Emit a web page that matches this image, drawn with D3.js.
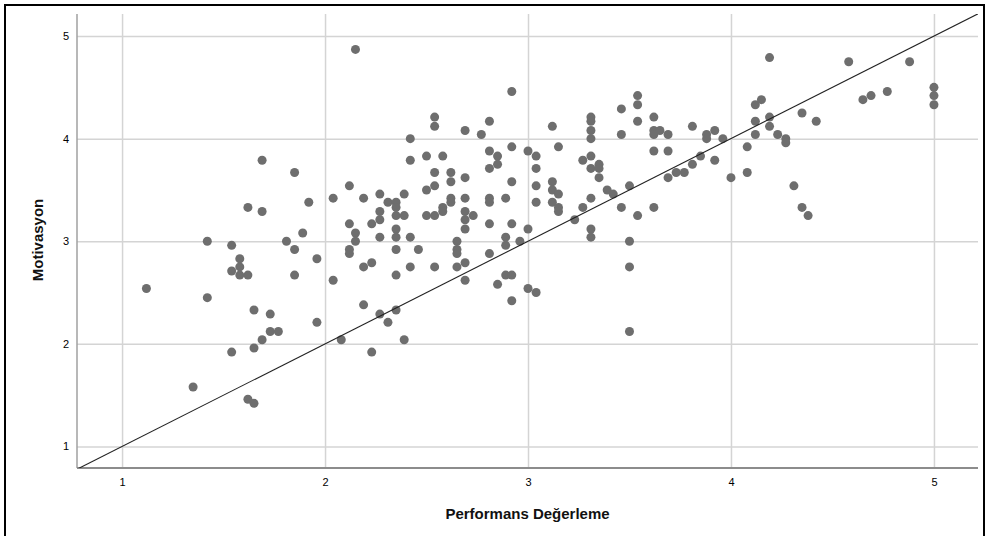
<!DOCTYPE html>
<html>
<head>
<meta charset="utf-8">
<script src="https://cdn.jsdelivr.net/npm/d3@7"></script>
<style>
  body { margin: 0; background: #fff; }
  svg { display: block; font-family: Arial, "Liberation Sans", sans-serif; }
</style>
</head>
<body>
<div id="chart"></div>
<script>
var w = 986,
    h = 536;

// Performans Değerleme (x) and Motivasyon (y), one entry per respondent
var performans = [
    1.12, 1.35, 1.42, 1.42, 1.54, 1.54, 1.54, 1.58, 1.58, 1.58,
    1.62, 1.62, 1.62, 1.65, 1.65, 1.65, 1.69, 1.69, 1.69, 1.73,
    1.73, 1.77, 1.81, 1.85, 1.85, 1.85, 1.89, 1.92, 1.96, 1.96,
    2.04, 2.04, 2.08, 2.12, 2.12, 2.12, 2.12, 2.15, 2.15, 2.15,
    2.19, 2.19, 2.19, 2.23, 2.23, 2.23, 2.27, 2.27, 2.27, 2.27,
    2.27, 2.31, 2.31, 2.35, 2.35, 2.35, 2.35, 2.35, 2.35, 2.35,
    2.35, 2.39, 2.39, 2.39, 2.42, 2.42, 2.42, 2.42, 2.46, 2.50,
    2.50, 2.50, 2.54, 2.54, 2.54, 2.54, 2.54, 2.54, 2.58, 2.58,
    2.58, 2.62, 2.62, 2.62, 2.62, 2.65, 2.65, 2.65, 2.65, 2.69,
    2.69, 2.69, 2.69, 2.69, 2.69, 2.69, 2.69, 2.73, 2.77, 2.81,
    2.81, 2.81, 2.81, 2.81, 2.81, 2.81, 2.85, 2.85, 2.85, 2.89,
    2.89, 2.89, 2.89, 2.92, 2.92, 2.92, 2.92, 2.92, 2.92, 2.96,
    3.00, 3.00, 3.00, 3.04, 3.04, 3.04, 3.04, 3.04, 3.12, 3.12,
    3.12, 3.12, 3.15, 3.15, 3.15, 3.15, 3.23, 3.27, 3.27, 3.31,
    3.31, 3.31, 3.31, 3.31, 3.31, 3.31, 3.31, 3.31, 3.35, 3.35,
    3.35, 3.39, 3.42, 3.46, 3.46, 3.46, 3.50, 3.50, 3.50, 3.50,
    3.54, 3.54, 3.54, 3.54, 3.62, 3.62, 3.62, 3.62, 3.62, 3.65,
    3.69, 3.69, 3.69, 3.73, 3.77, 3.81, 3.81, 3.85, 3.88, 3.88,
    3.92, 3.92, 3.96, 4.00, 4.08, 4.08, 4.12, 4.12, 4.12, 4.15,
    4.19, 4.19, 4.19, 4.23, 4.27, 4.27, 4.31, 4.35, 4.35, 4.38,
    4.42, 4.58, 4.65, 4.69, 4.77, 4.88, 5.00, 5.00, 5.00
];
var motivasyon = [
    2.54, 1.58, 3.00, 2.45, 2.96, 2.71, 1.92, 2.83, 2.75, 2.67,
    3.33, 2.67, 1.46, 2.33, 1.96, 1.42, 3.79, 3.29, 2.04, 2.29,
    2.12, 2.12, 3.00, 3.67, 2.92, 2.67, 3.08, 3.38, 2.83, 2.21,
    3.42, 2.62, 2.04, 3.54, 3.17, 2.92, 2.88, 4.87, 3.08, 3.00,
    3.42, 2.75, 2.38, 3.17, 2.79, 1.92, 3.46, 3.29, 3.21, 3.04,
    2.29, 3.38, 2.21, 3.38, 3.33, 3.25, 3.12, 3.04, 2.92, 2.67,
    2.33, 3.46, 3.25, 2.04, 4.00, 3.79, 3.04, 2.75, 2.92, 3.83,
    3.50, 3.25, 4.21, 4.12, 3.67, 3.54, 3.25, 2.75, 3.83, 3.33,
    3.29, 3.67, 3.58, 3.42, 3.38, 3.00, 2.92, 2.88, 2.75, 4.08,
    3.62, 3.42, 3.29, 3.21, 3.12, 2.79, 2.62, 3.25, 4.04, 4.17,
    3.88, 3.71, 3.42, 3.38, 3.17, 2.88, 3.83, 3.75, 2.58, 3.42,
    3.04, 2.96, 2.67, 4.46, 3.92, 3.58, 3.17, 2.67, 2.42, 3.00,
    3.88, 3.12, 2.54, 3.83, 3.71, 3.54, 3.38, 2.50, 4.12, 3.58,
    3.50, 3.38, 3.92, 3.46, 3.33, 3.29, 3.21, 3.79, 3.33, 4.21,
    4.17, 4.08, 4.00, 3.83, 3.71, 3.42, 3.12, 3.04, 3.75, 3.71,
    3.62, 3.50, 3.46, 4.29, 4.04, 3.33, 3.54, 3.00, 2.75, 2.12,
    4.42, 4.33, 4.17, 3.25, 4.21, 4.08, 4.04, 3.88, 3.33, 4.08,
    4.04, 3.88, 3.62, 3.67, 3.67, 4.12, 3.75, 3.83, 4.04, 4.00,
    4.08, 3.79, 4.00, 3.62, 3.92, 3.67, 4.33, 4.17, 4.04, 4.38,
    4.79, 4.21, 4.12, 4.04, 4.00, 3.96, 3.54, 4.25, 3.33, 3.25,
    4.17, 4.75, 4.38, 4.42, 4.46, 4.75, 4.50, 4.42, 4.33
];

var xTicks = [1, 2, 3, 4, 5];
var yTicks = [1, 2, 3, 4, 5];
// reference line y = x
var refLine = [0.5, 5.5];

var xTitle = "Performans Değerleme",
    yTitle = "Motivasyon";

var data = performans.map(function(p, i) {
    return { x: p, y: motivasyon[i] };
});

var plot = { left: 77, right: 978, top: 14, bottom: 468 };

var x = d3.scaleLinear()
    .domain([0.778, 5.217])
    .range([plot.left, plot.right]);

var y = d3.scaleLinear()
    .domain([0.79, 5.215])
    .range([plot.bottom, plot.top]);

var svg = d3.select("#chart").append("svg")
    .attr("width", w)
    .attr("height", h);

svg.append("rect")
    .attr("width", w)
    .attr("height", h)
    .attr("fill", "#fff");

svg.append("defs").append("clipPath")
    .attr("id", "plot-clip")
    .append("rect")
    .attr("x", plot.left)
    .attr("y", plot.top)
    .attr("width", plot.right - plot.left)
    .attr("height", plot.bottom - plot.top);

// gridlines
svg.append("g")
    .attr("class", "grid-x")
    .attr("transform", "translate(0," + plot.bottom + ")")
    .call(d3.axisBottom(x).tickValues(xTicks).tickSize(-(plot.bottom - plot.top)).tickFormat(""))
    .call(function(g) {
        g.select(".domain").remove();
        g.selectAll("line").attr("stroke", "#d4d4d4").attr("stroke-width", 1.5);
    });

svg.append("g")
    .attr("class", "grid-y")
    .attr("transform", "translate(" + plot.left + ",0)")
    .call(d3.axisLeft(y).tickValues(yTicks).tickSize(-(plot.right - plot.left)).tickFormat(""))
    .call(function(g) {
        g.select(".domain").remove();
        g.selectAll("line").attr("stroke", "#d4d4d4").attr("stroke-width", 1.5);
    });

// axis lines
svg.append("line")
    .attr("x1", plot.left).attr("x2", plot.left)
    .attr("y1", plot.top).attr("y2", plot.bottom)
    .attr("stroke", "#a0a0a0")
    .attr("stroke-width", 1.5);

svg.append("line")
    .attr("x1", plot.left).attr("x2", plot.right)
    .attr("y1", plot.bottom).attr("y2", plot.bottom)
    .attr("stroke", "#8c8c8c")
    .attr("stroke-width", 2);

// tick labels
svg.append("g")
    .attr("transform", "translate(0," + plot.bottom + ")")
    .call(d3.axisBottom(x).tickValues(xTicks).tickSize(0).tickPadding(10).tickFormat(d3.format("d")))
    .call(function(g) {
        g.select(".domain").remove();
        g.selectAll("text")
            .attr("font-family", "Arial, 'Liberation Sans', sans-serif")
            .attr("font-size", 11)
            .attr("fill", "#000");
    });

svg.append("g")
    .attr("transform", "translate(" + plot.left + ",0)")
    .call(d3.axisLeft(y).tickValues(yTicks).tickSize(0).tickPadding(8).tickFormat(d3.format("d")))
    .call(function(g) {
        g.select(".domain").remove();
        g.selectAll("text")
            .attr("font-family", "Arial, 'Liberation Sans', sans-serif")
            .attr("font-size", 11)
            .attr("fill", "#000");
    });

// points
svg.append("g")
    .selectAll("circle")
    .data(data)
    .enter().append("circle")
    .attr("cx", function(d) { return x(d.x); })
    .attr("cy", function(d) { return y(d.y); })
    .attr("r", 4.5)
    .attr("fill", "#6e6e6e");

// y = x line
svg.append("line")
    .attr("clip-path", "url(#plot-clip)")
    .attr("x1", x(refLine[0])).attr("y1", y(refLine[0]))
    .attr("x2", x(refLine[1])).attr("y2", y(refLine[1]))
    .attr("stroke", "#222")
    .attr("stroke-width", 1.1);

// axis titles
svg.append("text")
    .attr("x", (plot.left + plot.right) / 2)
    .attr("y", 519)
    .attr("text-anchor", "middle")
    .attr("font-size", 15)
    .attr("font-weight", "bold")
    .attr("fill", "#111")
    .text(xTitle);

svg.append("text")
    .attr("transform", "translate(43,240) rotate(-90)")
    .attr("text-anchor", "middle")
    .attr("font-size", 15)
    .attr("font-weight", "bold")
    .attr("fill", "#111")
    .text(yTitle);

// outer frame
svg.append("rect")
    .attr("x", 5)
    .attr("y", 5)
    .attr("width", 979)
    .attr("height", 560)
    .attr("fill", "none")
    .attr("stroke", "#000")
    .attr("stroke-width", 2);
</script>
</body>
</html>
